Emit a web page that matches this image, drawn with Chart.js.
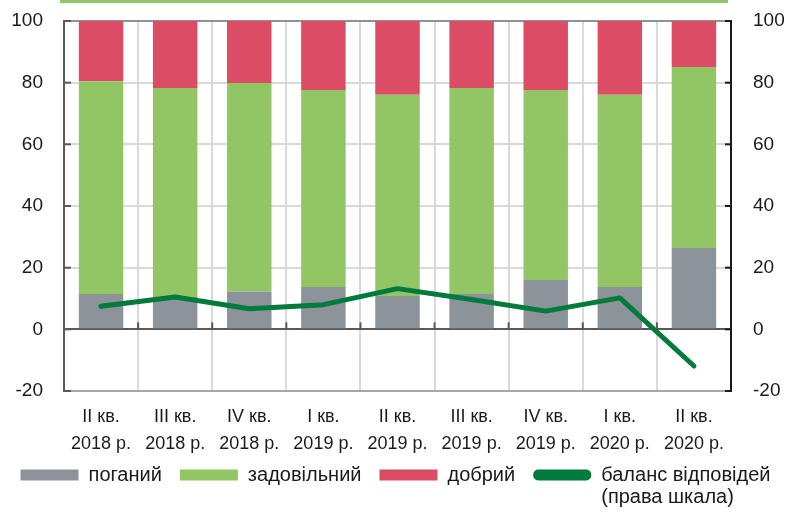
<!DOCTYPE html>
<html>
<head>
<meta charset="utf-8">
<script src="https://cdn.jsdelivr.net/npm/chart.js@4.4.0/dist/chart.umd.min.js"></script>
<style>
  html, body { margin: 0; padding: 0; background: #ffffff; }
  #wrap { position: relative; width: 791px; height: 512px; }
  #topline { position: absolute; left: 60px; top: 0; width: 668px; height: 3px; background: #92c665; }
  canvas { position: absolute; left: 0; top: 0; }
</style>
</head>
<body>
<div id="wrap">
  <canvas id="c" width="791" height="512"></canvas>
  <div id="topline"></div>
</div>
<script>
// ---- data ----
const quarters = ['II кв.', 'III кв.', 'IV кв.', 'I кв.', 'II кв.', 'III кв.', 'IV кв.', 'I кв.', 'II кв.'];
const years    = ['2018 р.', '2018 р.', '2018 р.', '2019 р.', '2019 р.', '2019 р.', '2019 р.', '2020 р.', '2020 р.'];
const bad          = [11.5, 10.5, 12.3, 13.7, 10.8, 11.5, 16.0, 13.7, 26.4];
const satisfactory = [69.0, 67.8, 67.6, 63.9, 65.3, 66.8, 61.6, 62.4, 58.7];
const good         = [19.5, 21.7, 20.1, 22.4, 23.9, 21.7, 22.4, 23.9, 14.9];
const balance      = [7.5, 10.5, 6.7, 8.0, 13.2, 9.7, 5.9, 10.2, -11.9];
const yTicks = [-20, 0, 20, 40, 60, 80, 100];
const seriesNames = ['поганий', 'задовільний', 'добрий', 'баланс відповідей'];
const secondLegendLine = '(права шкала)';

const labels = quarters.map((q, i) => [q, years[i]]);
const FONT = "'Liberation Sans', Arial, sans-serif";

const legendSecondLine = {
  id: 'legendSecondLine',
  afterDraw(chart) {
    const lg = chart.legend;
    if (!lg || !lg.legendHitBoxes || lg.legendHitBoxes.length < 4) return;
    const hb = lg.legendHitBoxes[3];
    const fs = lg.options.labels.font.size;
    const ctx = chart.ctx;
    ctx.save();
    ctx.font = fs + 'px ' + FONT;
    ctx.fillStyle = '#1a1a1a';
    ctx.textBaseline = 'middle';
    ctx.textAlign = 'left';
    ctx.fillText(secondLegendLine, hb.left + lg.options.labels.boxWidth + fs / 2, hb.top + hb.height / 2 + 22);
    ctx.restore();
  }
};

// short inward tick marks on both value axes and upward ticks on the zero line
const innerTicks = {
  id: 'innerTicks',
  afterDraw(chart) {
    const ctx = chart.ctx;
    const y = chart.scales.y, y1 = chart.scales.y1, x = chart.scales.x;
    const area = chart.chartArea;
    ctx.save();
    ctx.lineWidth = 2;
    ctx.strokeStyle = '#595959';
    y.ticks.forEach(t => {
      const py = y.getPixelForValue(t.value);
      ctx.beginPath(); ctx.moveTo(area.left, py); ctx.lineTo(area.left + 7, py); ctx.stroke();
    });
    ctx.strokeStyle = '#1a1a1a';
    y1.ticks.forEach(t => {
      const py = y1.getPixelForValue(t.value);
      ctx.beginPath(); ctx.moveTo(area.right, py); ctx.lineTo(area.right - 6, py); ctx.stroke();
    });
    ctx.strokeStyle = '#595959';
    const zy = y.getPixelForValue(0);
    for (let i = 1; i < x.ticks.length; i++) {
      const px = (x.getPixelForTick(i - 1) + x.getPixelForTick(i)) / 2;
      ctx.beginPath(); ctx.moveTo(px, zy); ctx.lineTo(px, zy - 7); ctx.stroke();
    }
    ctx.restore();
  }
};

new Chart(document.getElementById('c'), {
  data: {
    labels: labels,
    datasets: [
      { type: 'bar', label: seriesNames[0], data: bad, backgroundColor: '#8c9399', yAxisID: 'y', order: 1, stack: 's' },
      { type: 'bar', label: seriesNames[1], data: satisfactory, backgroundColor: '#92c665', yAxisID: 'y', order: 1, stack: 's' },
      { type: 'bar', label: seriesNames[2], data: good, backgroundColor: '#dc4c64', yAxisID: 'y', order: 1, stack: 's' },
      { type: 'line', label: seriesNames[3], data: balance, borderColor: '#007a3d', backgroundColor: '#007a3d',
        borderWidth: 5, pointRadius: 0, tension: 0, yAxisID: 'y1', order: 0,
        borderCapStyle: 'round', borderJoinStyle: 'round' }
    ]
  },
  options: {
    responsive: false,
    animation: false,
    events: [],
    layout: { padding: { top: 21, left: 0, right: 0, bottom: 17 } },
    datasets: { bar: { barPercentage: 0.6, categoryPercentage: 1.0 } },
    scales: {
      x: {
        stacked: true,
        offset: true,
        grid: { offset: true, color: '#d9d9d9', lineWidth: 2, drawTicks: false },
        border: { display: true, color: '#a6a6a6', width: 2 },
        ticks: { autoSkip: false, maxRotation: 0, minRotation: 0, padding: 13, color: '#1a1a1a',
                 font: { family: FONT, size: 18, lineHeight: 1.5 } },
        afterFit(s) { s.height = 56; s._computeLabelArea = () => undefined; }
      },
      y: {
        position: 'left',
        stacked: true,
        min: -20, max: 100,
        afterBuildTicks(s) { s.ticks = yTicks.map(v => ({ value: v })); },
        grid: {
          color: ctx => ctx.tick && ctx.tick.value === 0 ? '#595959' : (ctx.tick && ctx.tick.value === 100 ? '#8c9399' : '#d9d9d9'),
          lineWidth: 2,
          drawTicks: true, tickLength: 17, tickColor: 'rgba(0,0,0,0)'
        },
        border: { display: true, color: '#595959', width: 2 },
        ticks: { color: '#1a1a1a', padding: 4, font: { family: FONT, size: 19 } },
        afterFit(s) { s.width = 64; }
      },
      y1: {
        position: 'right',
        min: -20, max: 100,
        afterBuildTicks(s) { s.ticks = yTicks.map(v => ({ value: v })); },
        grid: { drawOnChartArea: false, drawTicks: true, tickLength: 18, tickColor: 'rgba(0,0,0,0)' },
        border: { display: true, color: '#1a1a1a', width: 2 },
        ticks: { color: '#1a1a1a', padding: 4, font: { family: FONT, size: 19 } },
        afterFit(s) { s.width = 60; }
      }
    },
    plugins: {
      tooltip: { enabled: false },
      legend: {
        position: 'bottom',
        align: 'center',
        labels: {
          boxWidth: 58, boxHeight: 11, padding: 18, color: '#1a1a1a',
          useBorderRadius: true,
          font: { family: FONT, size: 20 },
          sort: (a, b) => a.datasetIndex - b.datasetIndex,
          generateLabels(chart) {
            const items = Chart.defaults.plugins.legend.labels.generateLabels(chart);
            items.forEach(it => {
              const ds = chart.data.datasets[it.datasetIndex];
              it.lineWidth = 0;
              it.borderRadius = ds.type === 'line' ? 5 : 0;
            });
            return items;
          }
        }
      }
    }
  },
  plugins: [legendSecondLine, innerTicks]
});
</script>
</body>
</html>
